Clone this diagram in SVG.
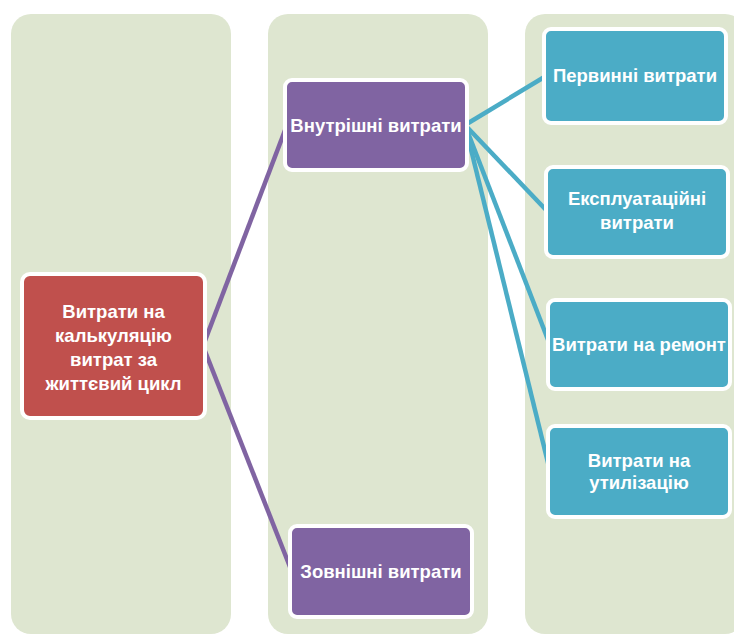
<svg xmlns="http://www.w3.org/2000/svg" width="734" height="635" viewBox="0 0 734 635">
<style>
.col{fill:#DEE6D0}
.node rect{stroke:#FFFFFF;stroke-width:4}
.red rect{fill:#C0504D}
.purple rect{fill:#8064A2}
.blue rect{fill:#4BACC6}
text{font-family:"Liberation Sans",Arial,sans-serif;font-weight:bold;font-size:18.5px;fill:#FFFFFF;text-anchor:middle}
.pl{stroke:#8064A2;stroke-width:4.5;fill:none}
.bl{stroke:#4BACC6;stroke-width:4.5;fill:none}
</style>
<rect width="734" height="635" fill="#FFFFFF"/>
<g id="columns">
<rect class="col" x="11" y="14" width="220" height="620" rx="20"/>
<rect class="col" x="268" y="14" width="220" height="620" rx="20"/>
<rect class="col" x="525" y="14" width="220" height="620" rx="20"/>
</g>
<g id="connectors">
<line class="pl" x1="203" y1="346" x2="287" y2="125"/>
<line class="pl" x1="203" y1="346" x2="292" y2="572"/>
<line class="bl" x1="465" y1="125" x2="546" y2="76"/>
<line class="bl" x1="465" y1="125" x2="548" y2="212"/>
<line class="bl" x1="465" y1="125" x2="550" y2="345"/>
<line class="bl" x1="465" y1="125" x2="550" y2="471"/>
</g>
<g id="n-life" class="node red">
<rect x="22" y="274" width="183" height="144" rx="8"/>
<text x="113.5" y="318">Витрати на</text>
<text x="113.5" y="342">калькуляцію</text>
<text x="113.5" y="366">витрат за</text>
<text x="113.5" y="390">життєвий цикл</text>
</g>
<g id="n-internal" class="node purple">
<rect x="285" y="80" width="182" height="90" rx="7"/>
<text x="376" y="132">Внутрішні витрати</text>
</g>
<g id="n-external" class="node purple">
<rect x="290" y="526" width="182" height="91" rx="7"/>
<text x="381" y="578">Зовнішні витрати</text>
</g>
<g id="n-primary" class="node blue">
<rect x="544" y="29" width="182" height="94" rx="7"/>
<text x="635" y="82">Первинні витрати</text>
</g>
<g id="n-operation" class="node blue">
<rect x="546" y="167" width="182" height="90" rx="7"/>
<text x="637" y="205">Експлуатаційні</text>
<text x="637" y="229">витрати</text>
</g>
<g id="n-repair" class="node blue">
<rect x="548" y="300" width="182" height="89" rx="7"/>
<text x="639" y="351">Витрати на ремонт</text>
</g>
<g id="n-disposal" class="node blue">
<rect x="548" y="426" width="182" height="91" rx="7"/>
<text x="639" y="467">Витрати на</text>
<text x="639" y="489">утилізацію</text>
</g>
</svg>
